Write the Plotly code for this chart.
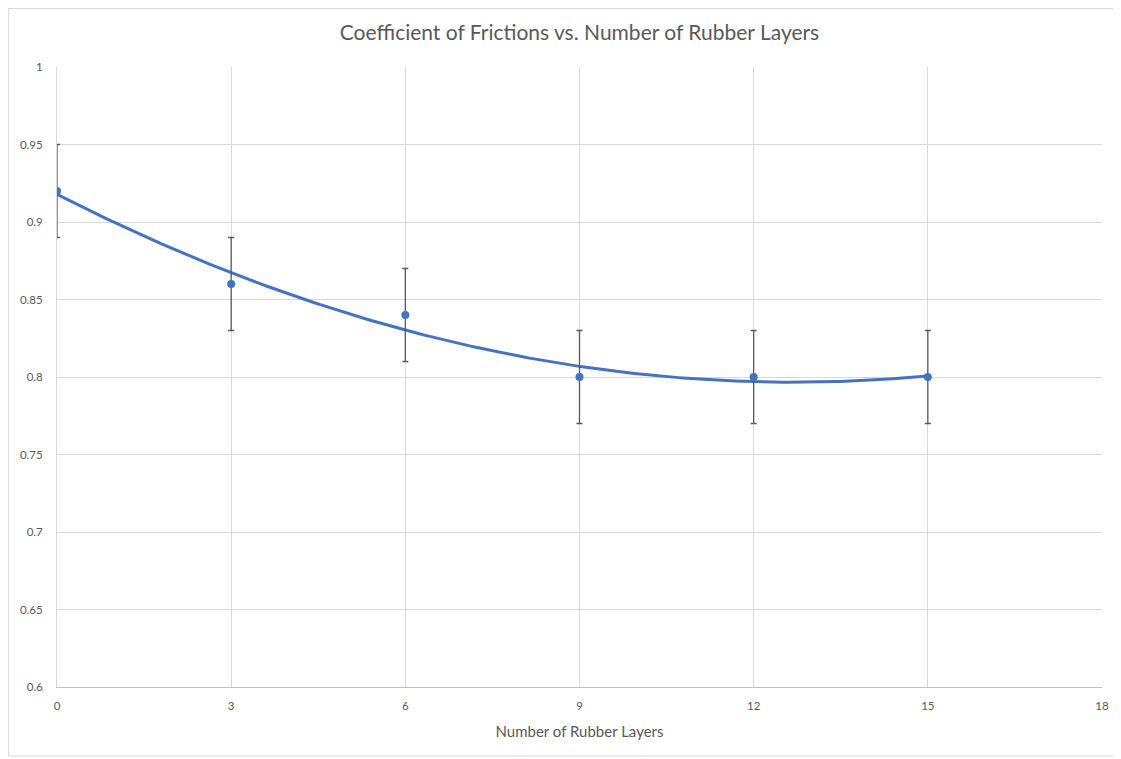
import numpy as np
import plotly.graph_objects as go

layers = [0, 3, 6, 9, 12, 15]
cof = [0.92, 0.86, 0.84, 0.80, 0.80, 0.80]
err = [0.03, 0.03, 0.03, 0.03, 0.03, 0.03]
x_ticks = [0, 3, 6, 9, 12, 15, 18]
y_ticks = [0.6, 0.65, 0.7, 0.75, 0.8, 0.85, 0.9, 0.95, 1.0]
y_labels = ["0.6", "0.65", "0.7", "0.75", "0.8", "0.85", "0.9", "0.95", "1"]

# polynomial (order 2) trendline fitted to data
coef = np.polyfit(layers, cof, 2)
xt = np.linspace(min(layers), max(layers), 200)
yt = np.polyval(coef, xt)

W, H = 1113, 751
L, R, T, B = 49, 17, 59, 72

fig = go.Figure()
fig.add_trace(go.Scatter(
    x=xt, y=yt, mode="lines",
    line=dict(color="#4472C4", width=3), hoverinfo="skip", showlegend=False))
fig.add_trace(go.Scatter(
    x=layers, y=cof, mode="markers",
    marker=dict(color="#4472C4", size=8),
    error_y=dict(type="data", array=err, visible=True, color="#595959",
                 thickness=1.3, width=3),
    showlegend=False))

pw = W - L - R
ph = H - T - B
def px2x(p):
    return (p - L) / pw
def py2y(p):
    return (H - B - p) / ph

fig.add_shape(type="rect", xref="paper", yref="paper",
              x0=px2x(0.5), x1=px2x(1109), y0=py2y(748), y1=py2y(0.5),
              line=dict(color="#D9D9D9", width=1), layer="below")

fig.update_layout(
    width=W, height=H,
    margin=dict(l=L, r=R, t=T, b=B),
    paper_bgcolor="white", plot_bgcolor="white",
    font=dict(family="Lato, Open Sans, sans-serif", color="#595959"),
    title=dict(text="Coefficient of Frictions vs. Number of Rubber Layers",
               x=0.5, xanchor="center", xref="paper",
               y=1 - 25 / H, yanchor="middle",
               font=dict(size=21, color="#595959")),
    xaxis=dict(range=[0, 18], tickvals=x_ticks, showgrid=True,
               gridcolor="#D9D9D9", gridwidth=1, zeroline=False,
               showline=True, linecolor="#BFBFBF", linewidth=1,
               ticks="outside", ticklen=8, tickcolor="white",
               tickfont=dict(size=11.5, color="#595959"),
               title=dict(text="Number of Rubber Layers",
                          font=dict(size=15, color="#595959"), standoff=15),
               mirror=False),
    yaxis=dict(range=[0.6, 1.0], tickvals=y_ticks, ticktext=y_labels,
               showgrid=True, gridcolor="#D9D9D9", gridwidth=1,
               zeroline=False, showline=True, linecolor="#D9D9D9",
               linewidth=1, ticks="outside", ticklen=11, tickcolor="white",
               tickfont=dict(size=11.5, color="#595959")),
)
fig.write_html("out.html")
